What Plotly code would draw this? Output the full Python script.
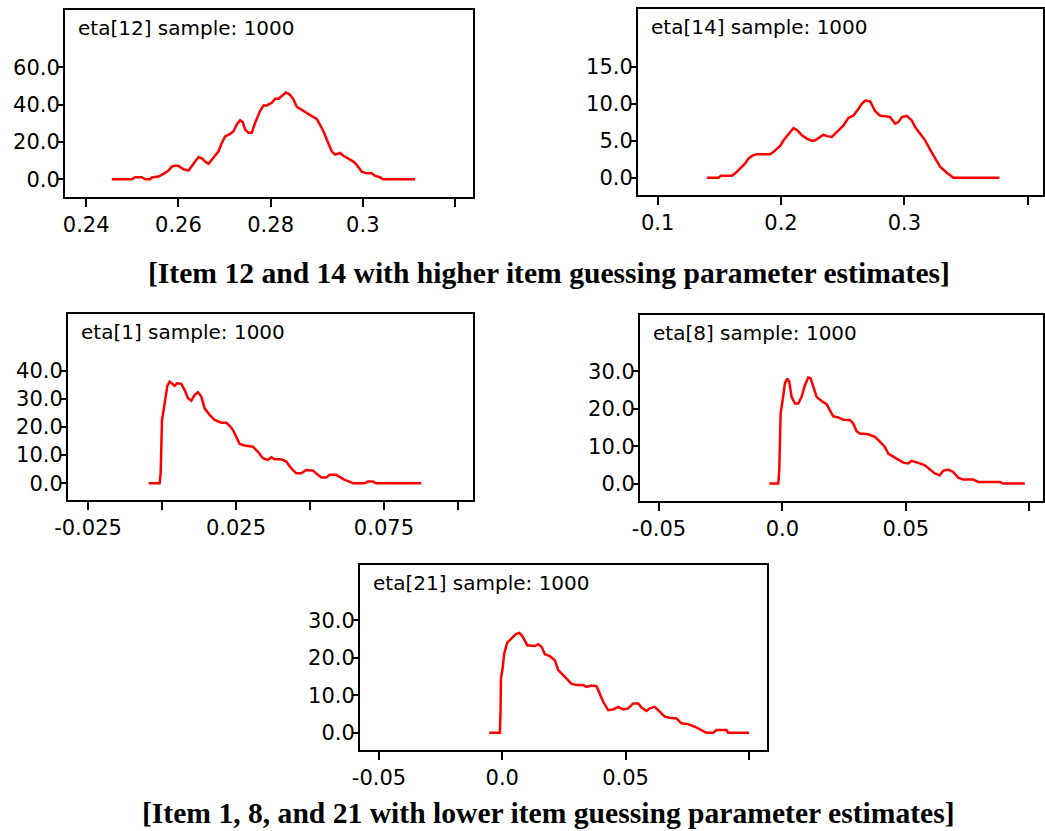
import plotly.graph_objects as go

W, H = 1045, 831

# ---------------- data ----------------
eta12_x = [0.24556, 0.24990, 0.25062, 0.25207, 0.25279, 0.25388, 0.25424, 0.25568, 0.25677, 0.25785,
           0.25857, 0.25930, 0.26002, 0.26110, 0.26219, 0.26291, 0.26363, 0.26436, 0.26508, 0.26580,
           0.26652, 0.26724, 0.26869, 0.26941, 0.27014, 0.27122, 0.27194, 0.27267, 0.27339, 0.27397,
           0.27447, 0.27520, 0.27592, 0.27664, 0.27772, 0.27845, 0.27917, 0.28025, 0.28098, 0.28170,
           0.28242, 0.28336, 0.28408, 0.28495, 0.28567, 0.28676, 0.28784, 0.28893, 0.29001, 0.29073,
           0.29146, 0.29218, 0.29326, 0.29399, 0.29507, 0.29579, 0.29688, 0.29796, 0.29868, 0.29977,
           0.30085, 0.30194, 0.30266, 0.30374, 0.30432, 0.31133]
eta12_y = [0, 0, 1.1, 1.1, 0, 0, 1, 1.5, 2.9, 4.7,
           6.8, 7.4, 7.2, 5.4, 4.7, 6.8, 9.5, 11.9, 11.2, 9.5,
           8.3, 10.5, 15, 19.5, 23, 24.3, 25.8, 29.4, 31.7, 30.6,
           26.7, 24.9, 24.9, 30.3, 36.6, 39.6, 39.6, 41, 43.2, 43.2,
           44.7, 46.5, 45.6, 42.9, 38.9, 37.1, 35.3, 33.9, 32.4, 29.4,
           25.8, 21.3, 15, 13.2, 14.1, 12.6, 10.8, 9.5, 7.7, 4.1,
           3.2, 3.2, 1.8, 1.1, 0, 0]

eta14_x = [0.13997, 0.14942, 0.15131, 0.16022, 0.16292, 0.16697, 0.17102, 0.17372, 0.17723, 0.18047,
           0.18588, 0.19128, 0.19398, 0.19668, 0.19938, 0.20208, 0.20613, 0.21018, 0.21342, 0.21693,
           0.22098, 0.22503, 0.22773, 0.23178, 0.23448, 0.23719, 0.24124, 0.24394, 0.24799, 0.25069,
           0.25474, 0.25879, 0.26284, 0.26554, 0.26824, 0.27229, 0.27634, 0.28039, 0.28444, 0.28850,
           0.29255, 0.29525, 0.29795, 0.30200, 0.30605, 0.30875, 0.31280, 0.31685, 0.32090, 0.32495,
           0.32900, 0.33440, 0.33980, 0.37707]
eta14_y = [0, 0, 0.27, 0.27, 0.58, 1.25, 1.92, 2.6, 3.0, 3.17,
           3.17, 3.17, 3.48, 3.93, 4.29, 5.04, 5.94, 6.70, 6.38, 5.71,
           5.27, 4.96, 5.05, 5.49, 5.80, 5.6, 5.49, 5.94, 6.61, 7.05,
           8.08, 8.39, 9.29, 9.96, 10.4, 10.3, 8.97, 8.35, 8.3, 8.17,
           7.28, 7.5, 8.17, 8.35, 7.72, 6.83, 5.94, 5.04, 3.79, 2.59,
           1.47, 0.67, 0, 0]

eta1_x = [-0.00450, -0.00079, -0.00045, -0.00023, 0.00000, 0.00056, 0.00113, 0.00180, 0.00259, 0.00338,
          0.00428, 0.00507, 0.00653, 0.00766, 0.00878, 0.00991, 0.01104, 0.01216, 0.01329, 0.01441,
          0.01610, 0.01779, 0.02005, 0.02173, 0.02286, 0.02399, 0.02511, 0.02624, 0.02793, 0.03074,
          0.03243, 0.03412, 0.03581, 0.03694, 0.03806, 0.04032, 0.04200, 0.04369, 0.04538, 0.04707,
          0.04876, 0.05101, 0.05270, 0.05383, 0.05552, 0.05664, 0.05890, 0.06002, 0.06171, 0.06340,
          0.06453, 0.06847, 0.06959, 0.07128, 0.07241, 0.08761]
eta1_y = [0, 0, 3.55, 11.8, 22.5, 26, 30.8, 34.6, 36.1, 35.5,
          34.6, 35.5, 35.3, 33.1, 30.2, 29.3, 31.4, 32.3, 30.8, 26.6,
          24.3, 22.5, 21.5, 21.5, 20.4, 18.9, 16.6, 14.0, 13.4, 13.0,
          11.2, 8.9, 8.3, 9.2, 8.5, 8.5, 7.7, 5.3, 3.55, 3.55,
          4.7, 4.5, 3.0, 2.1, 2.1, 3.0, 3.0, 2.4, 1.2, 0.6,
          0, 0, 0.6, 0.6, 0, 0]

eta8_x = [-0.00531, -0.00167, -0.00126, -0.00099, -0.00072, 0.00009, 0.00103, 0.00198, 0.00279, 0.00373,
          0.00508, 0.00643, 0.00778, 0.00913, 0.01048, 0.01143, 0.01251, 0.01386, 0.01588, 0.01791,
          0.01926, 0.02061, 0.02263, 0.02466, 0.02736, 0.02871, 0.03006, 0.03141, 0.03478, 0.03748,
          0.03951, 0.04153, 0.04288, 0.04491, 0.04693, 0.04896, 0.05098, 0.05233, 0.05436, 0.05571,
          0.05773, 0.05976, 0.06178, 0.06381, 0.06516, 0.06718, 0.06921, 0.07124, 0.07326, 0.07731,
          0.07934, 0.08811, 0.08946, 0.09824]
eta8_y = [0, 0, 3.6, 10.7, 18.75, 22.3, 26.8, 28.1, 27.2, 23.2,
          21.4, 21.4, 23.2, 26.3, 28.4, 28.2, 25.9, 23.2, 22.1, 21.25,
          19.6, 18.0, 17.7, 17.1, 17.0, 16.1, 14.0, 13.4, 13.2, 12.5,
          11.2, 9.8, 8.0, 7.1, 6.4, 5.6, 5.4, 6.1, 5.8, 5.4,
          4.9, 3.75, 2.7, 2.2, 3.4, 3.75, 3.1, 1.6, 1.07, 1.07,
          0.45, 0.45, 0, 0]

eta21_x = [-0.00527, -0.00095, -0.00068, -0.00054, 0.00014, 0.00081, 0.00203, 0.00378, 0.00554, 0.00689,
           0.00824, 0.01014, 0.01324, 0.01459, 0.01595, 0.01730, 0.01932, 0.02135, 0.02270, 0.02541,
           0.02811, 0.03014, 0.03284, 0.03419, 0.03622, 0.03824, 0.03959, 0.04095, 0.04297, 0.04500,
           0.04703, 0.04905, 0.05108, 0.05311, 0.05514, 0.05649, 0.05851, 0.05986, 0.06189, 0.06392,
           0.06595, 0.06797, 0.07068, 0.07270, 0.07541, 0.07811, 0.08081, 0.08284, 0.08554, 0.08689,
           0.09095, 0.09162, 0.10014]
eta21_y = [0, 0, 6.0, 14.5, 17.1, 21.1, 24.0, 25.1, 26.3, 26.6,
           25.7, 23.3, 23.1, 23.6, 22.9, 20.9, 20.4, 19.3, 16.7, 14.9,
           13.0, 12.7, 12.7, 12.2, 12.6, 12.4, 10.5, 8.25, 6.0, 6.2,
           6.9, 6.2, 6.5, 7.8, 7.8, 6.7, 5.8, 6.5, 6.9, 5.6,
           4.3, 4.0, 3.8, 2.5, 2.3, 1.6, 0.7, 0, 0, 0.7,
           0.7, 0, 0]

titles = ["eta[12] sample: 1000", "eta[14] sample: 1000", "eta[1] sample: 1000",
          "eta[8] sample: 1000", "eta[21] sample: 1000"]

x12_ticks = [0.24, 0.26, 0.28, 0.30, 0.32]
x12_labels = ["0.24", "0.26", "0.28", "0.3", ""]
y12_ticks = [0, 20, 40, 60]
y12_labels = ["0.0", "20.0", "40.0", "60.0"]

x14_ticks = [0.1, 0.2, 0.3, 0.4]
x14_labels = ["0.1", "0.2", "0.3", ""]
y14_ticks = [0, 5, 10, 15]
y14_labels = ["0.0", "5.0", "10.0", "15.0"]

x1_ticks = [-0.025, 0.0, 0.025, 0.05, 0.075, 0.1]
x1_labels = ["-0.025", "", "0.025", "", "0.075", ""]
y1_ticks = [0, 10, 20, 30, 40]
y1_labels = ["0.0", "10.0", "20.0", "30.0", "40.0"]

x8_ticks = [-0.05, 0.0, 0.05, 0.1]
x8_labels = ["-0.05", "0.0", "0.05", ""]
y8_ticks = [0, 10, 20, 30]
y8_labels = ["0.0", "10.0", "20.0", "30.0"]

x21_ticks = [-0.05, 0.0, 0.05, 0.1]
x21_labels = ["-0.05", "0.0", "0.05", ""]
y21_ticks = [0, 10, 20, 30]
y21_labels = ["0.0", "10.0", "20.0", "30.0"]

caption_top = "[Item 12 and 14 with higher item guessing parameter estimates]"
caption_bottom = "[Item 1, 8, and 21 with lower item guessing parameter estimates]"

# ---------------- layout helpers ----------------
panels = [
    (eta12_x, eta12_y, [65, 10, 473, 197], [0.2354, 0.3239], [-9.5, 90.8], x12_ticks, x12_labels, y12_ticks, y12_labels),
    (eta14_x, eta14_y, [638, 9, 1043, 195], [0.0841, 0.4124], [-2.34, 22.76], x14_ticks, x14_labels, y14_ticks, y14_labels),
    (eta1_x, eta1_y, [68, 314, 473, 500], [-0.03176, 0.1051], [-5.93, 60.1], x1_ticks, x1_labels, y1_ticks, y1_labels),
    (eta8_x, eta8_y, [640, 315, 1043, 501], [-0.0577, 0.1056], [-4.66, 45.1], x8_ticks, x8_labels, y8_ticks, y8_labels),
    (eta21_x, eta21_y, [360, 565, 767, 750], [-0.0577, 0.1074], [-4.6, 44.7], x21_ticks, x21_labels, y21_ticks, y21_labels),
]

fig = go.Figure()
tick_font = dict(family="DejaVu Sans", size=21, color="black")
layout = {}
annotations = []
for i, (xs, ys, box, xr, yr, xt, xl, yt, yl) in enumerate(panels):
    n = i + 1
    suffix = "" if n == 1 else str(n)
    l, t, r, b = box
    fig.add_trace(go.Scatter(x=xs, y=ys, mode="lines",
                             line=dict(color="#ff0000", width=2.5),
                             xaxis="x" + suffix, yaxis="y" + suffix,
                             showlegend=False, hoverinfo="skip"))
    layout["xaxis" + suffix] = dict(
        domain=[l / W, r / W], range=xr, anchor="y" + suffix,
        showline=True, linecolor="black", linewidth=2, mirror=True,
        ticks="outside", ticklen=8, tickwidth=2, tickcolor="black",
        tickvals=xt, ticktext=xl, tickfont=tick_font, automargin=False,
        showgrid=False, zeroline=False, fixedrange=True)
    layout["yaxis" + suffix] = dict(
        domain=[1 - b / H, 1 - t / H], range=yr, anchor="x" + suffix,
        showline=True, linecolor="black", linewidth=2, mirror=True,
        ticks="outside", ticklen=5, tickwidth=2, tickcolor="black",
        tickvals=yt, ticktext=yl, tickfont=tick_font, automargin=False,
        ticklabelstandoff=-6,
        showgrid=False, zeroline=False, fixedrange=True)
    annotations.append(dict(
        text=titles[i], xref="paper", yref="paper",
        x=(l + 11) / W, y=1 - (t + 18) / H, xanchor="left", yanchor="middle",
        showarrow=False, font=dict(family="DejaVu Sans", size=20, color="black")))

cap_font = dict(family="Liberation Serif", size=29.6, color="black")
annotations.append(dict(text="<b>" + caption_top + "</b>", xref="paper", yref="paper",
                        x=549 / W, y=1 - 273 / H, xanchor="center", yanchor="middle",
                        showarrow=False, font=cap_font))
annotations.append(dict(text="<b>" + caption_bottom + "</b>", xref="paper", yref="paper",
                        x=548 / W, y=1 - 813 / H, xanchor="center", yanchor="middle",
                        showarrow=False, font=cap_font))

fig.update_layout(width=W, height=H, margin=dict(l=0, r=0, t=0, b=0, autoexpand=False),
                  paper_bgcolor="white", plot_bgcolor="white",
                  annotations=annotations, **layout)

fig.write_html("out.html", config={"displayModeBar": False})
